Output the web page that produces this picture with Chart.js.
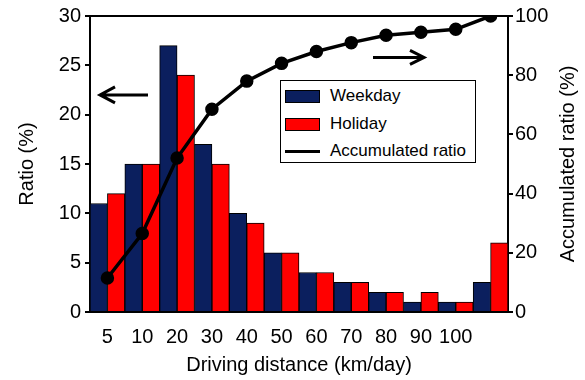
<!DOCTYPE html>
<html>
<head>
<meta charset="utf-8">
<script src="https://cdn.jsdelivr.net/npm/chart.js@4.4.1/dist/chart.umd.min.js"></script>
<style>
    body { margin: 0; background: #fff; }
    #wrap { position: relative; width: 585px; height: 380px; }
    #legend {
        position: absolute; left: 280px; top: 80px; width: 194px; height: 81px;
        border: 1.5px solid #000; background: #fff;
        font: 17px 'Liberation Sans', Arial, sans-serif; color: #000;
    }
    .row { position: absolute; left: 4px; height: 20px; display: flex; align-items: center; white-space: nowrap; }
    .sw { width: 35px; height: 13px; border: 1px solid #000; box-sizing: border-box; margin-right: 10px; }
    .ln { width: 35px; height: 3px; background: #000; margin-right: 10px; }
</style>
</head>
<body>
<div id="wrap">
    <canvas id="chart" width="585" height="380"></canvas>
    <div id="legend"></div>
</div>
<script>
const distanceLabels = ['5', '10', '20', '30', '40', '50', '60', '70', '80', '90', '100', '']
const weekdayRatio = [11, 15, 27, 17, 10, 6, 4, 3, 2, 1, 1, 3]
const holidayRatio = [12, 15, 24, 15, 9, 6, 4, 3, 2, 2, 1, 7]
const accumulatedRatio = [11.5, 26.5, 52, 68.5, 78, 84, 88, 91, 93.5, 94.5, 95.5, 100]
const seriesNames = ['Weekday', 'Holiday', 'Accumulated ratio']

const navy = '#0b1f5e'
const red = '#ff0000'
const fontFamily = "'Liberation Sans', Arial, sans-serif"

// legend box drawn over the plot, like the original
const legend = document.getElementById('legend')
legend.innerHTML =
    `<div class="row" style="top:5px"><span class="sw" style="background:${navy}"></span>${seriesNames[0]}</div>` +
    `<div class="row" style="top:33px"><span class="sw" style="background:${red}"></span>${seriesNames[1]}</div>` +
    `<div class="row" style="top:60px"><span class="ln"></span>${seriesNames[2]}</div>`

function drawArrow(ctx, tail, tip, y, head, half) {
    const dir = tip < tail ? 1 : -1
    ctx.beginPath()
    ctx.moveTo(tail, y)
    ctx.lineTo(tip, y)
    ctx.moveTo(tip + dir * head, y - half)
    ctx.lineTo(tip, y)
    ctx.lineTo(tip + dir * head, y + half)
    ctx.stroke()
}

const framePlugin = {
    id: 'frame',
    afterDraw(chart) {
        const { ctx, chartArea: ca, scales } = chart
        ctx.save()
        ctx.strokeStyle = '#000'
        ctx.lineWidth = 2
        ctx.beginPath()
        ctx.moveTo(ca.left, ca.top)
        ctx.lineTo(ca.right, ca.top)
        ctx.stroke()

        ctx.lineWidth = 3
        ctx.lineCap = 'butt'
        drawArrow(ctx, ca.left + 58, ca.left + 10, scales.y.getPixelForValue(22), 15, 8)
        drawArrow(ctx, ca.left + 283, ca.left + 334, scales.y1.getPixelForValue(86), 14, 7)

        // right axis title reads bottom-to-top in the original
        ctx.translate(chart.width - 17, (ca.top + ca.bottom) / 2)
        ctx.rotate(-Math.PI / 2)
        ctx.fillStyle = '#000'
        ctx.font = `20px ${fontFamily}`
        ctx.textAlign = 'center'
        ctx.textBaseline = 'middle'
        ctx.fillText('Accumulated ratio (%)', 0, 0)
        ctx.restore()
    }
}

const tickFont = { family: fontFamily, size: 20 }
const titleFont = { family: fontFamily, size: 20 }

new Chart(document.getElementById('chart'), {
    type: 'bar',
    data: {
        labels: distanceLabels,
        datasets: [{
            type: 'line',
            label: seriesNames[2],
            data: accumulatedRatio,
            yAxisID: 'y1',
            borderColor: '#000',
            backgroundColor: '#000',
            borderWidth: 3.5,
            pointRadius: 5,
            pointBackgroundColor: '#000',
            tension: 0,
            order: 0
        }, {
            label: seriesNames[0],
            data: weekdayRatio,
            yAxisID: 'y',
            backgroundColor: navy,
            borderColor: '#000',
            borderWidth: 1,
            categoryPercentage: 1,
            barPercentage: 1,
            order: 1
        }, {
            label: seriesNames[1],
            data: holidayRatio,
            yAxisID: 'y',
            backgroundColor: red,
            borderColor: '#000',
            borderWidth: 1,
            categoryPercentage: 1,
            barPercentage: 1,
            order: 1
        }]
    },
    options: {
        responsive: false,
        animation: false,
        layout: { padding: { top: 15 } },
        plugins: {
            legend: { display: false },
            tooltip: { enabled: false }
        },
        scales: {
            x: {
                grid: { display: false },
                border: { color: '#000', width: 2 },
                ticks: { color: '#000', font: tickFont, padding: 5, maxRotation: 0, autoSkip: false },
                title: { display: true, text: 'Driving distance (km/day)', color: '#000', font: titleFont, padding: { top: 4, bottom: 3 } },
                afterFit(s) { s.height = 68 }
            },
            y: {
                position: 'left',
                min: 0,
                max: 30,
                ticks: { stepSize: 5, color: '#000', font: tickFont, padding: 4 },
                grid: { drawOnChartArea: false, drawTicks: true, tickLength: 5, color: '#000', lineWidth: 2 },
                border: { color: '#000', width: 2 },
                title: { display: true, text: 'Ratio (%)', color: '#000', font: titleFont, padding: { top: 15, bottom: 4 } },
                afterFit(s) { s.width = 90 }
            },
            y1: {
                position: 'right',
                min: 0,
                max: 100,
                ticks: { stepSize: 20, color: '#000', font: tickFont, padding: 2 },
                grid: { drawOnChartArea: false, drawTicks: true, tickLength: 5, color: '#000', lineWidth: 2 },
                border: { color: '#000', width: 2 },
                afterFit(s) { s.width = 77 }
            }
        }
    },
    plugins: [framePlugin]
})
</script>
</body>
</html>
